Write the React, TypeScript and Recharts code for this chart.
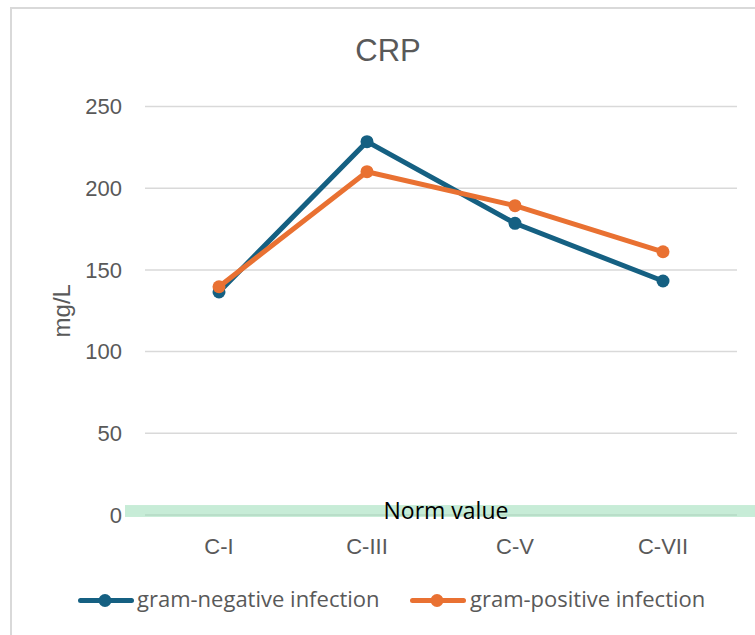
import React from 'react';
import { LineChart, Line, XAxis, YAxis, CartesianGrid, Legend, ReferenceArea } from 'recharts';

const categories = ['C-I', 'C-III', 'C-V', 'C-VII'];
const gramNegative = [136.5, 228.5, 178.5, 143.2];
const gramPositive = [139.7, 210.1, 189.3, 161.1];
const yTicks = [0, 50, 100, 150, 200, 250];
const normBand = [-1.2, 6.1];

const seriesNames = ['gram-negative infection', 'gram-positive infection'];
const seriesColors = ['#156082', '#E97132'];

const data = categories.map((c, i) => ({
  category: c,
  neg: gramNegative[i],
  pos: gramPositive[i],
}));

const TICK_FONT = '"Liberation Sans", Arial, sans-serif';
const TEXT_COLOR = '#595959';

const LegendContent = () => (
  <div style={{ display: 'flex', height: 28, fontFamily: '"Open Sans", sans-serif', fontSize: 22, color: TEXT_COLOR, lineHeight: '28px', whiteSpace: 'nowrap' }}>
    {seriesNames.map((name, i) => (
      <div key={name} style={{ display: 'flex', width: i === 0 ? 332 : 320, height: 28 }}>
        <svg width={56} height={28} style={{ display: 'block', flex: 'none' }}>
          <line x1={2.5} x2={53.5} y1={16.5} y2={16.5} stroke={seriesColors[i]} strokeWidth={5} strokeLinecap="round" />
          <circle cx={27} cy={16.5} r={6.5} fill={seriesColors[i]} />
        </svg>
        <span style={{ marginLeft: i === 0 ? 3 : 4 }}>{name}</span>
      </div>
    ))}
  </div>
);

// The band spans the first to last category; widen it past the plot like the original shape.
const BandShape = (props: any) => (
  <rect
    x={props.x - 94}
    y={props.y}
    width={props.width + 210}
    height={props.height}
    fill="#8fd9b0"
    fillOpacity={0.5}
  />
);

export default function App() {
  return (
    <div style={{ position: 'fixed', left: 0, top: 0, width: 755, height: 635, overflow: 'hidden', background: '#fff' }}>
      <div style={{ position: 'absolute', left: 10, top: 7, width: 780, height: 660, border: '2px solid #d9d9d9', boxSizing: 'border-box' }} />
      <div style={{ position: 'absolute', left: 288, top: 35, width: 200, textAlign: 'center', fontFamily: TICK_FONT, fontSize: 31, lineHeight: '31px', color: TEXT_COLOR }}>
        CRP
      </div>
      <div style={{ position: 'absolute', left: 0, top: 0 }}>
        <LineChart width={755} height={635} data={data} margin={{ top: 106.5, right: 18, bottom: 80, left: 85 }} style={{ overflow: 'visible' }}>
          <CartesianGrid vertical={false} stroke="#d9d9d9" strokeWidth={1.5} />
          <XAxis
            dataKey="category"
            axisLine={false}
            tickLine={false}
            height={40}
            padding={{ left: 74, right: 74 }}
            tickMargin={17}
            tick={{ fontSize: 22, fill: TEXT_COLOR, fontFamily: TICK_FONT }}
            interval={0}
          />
          <YAxis
            domain={[0, 250]}
            ticks={yTicks}
            axisLine={false}
            tickLine={false}
            width={60}
            tickMargin={17}
            tick={{ fontSize: 22, fill: TEXT_COLOR, fontFamily: TICK_FONT }}
            label={{ value: 'mg/L', angle: -90, position: 'center', dx: -54, fontSize: 24, fill: TEXT_COLOR, fontFamily: TICK_FONT }}
          />
          <ReferenceArea
            y1={normBand[0]}
            y2={normBand[1]}
            ifOverflow="visible"
            shape={BandShape}
            label={{ value: 'Norm value', position: 'center', dx: 5, fontSize: 23, fill: '#000', fontFamily: '"Open Sans", sans-serif' }}
          />
          <Line
            dataKey="neg"
            name={seriesNames[0]}
            stroke={seriesColors[0]}
            strokeWidth={5}
            dot={{ r: 6.5, fill: seriesColors[0], stroke: 'none' }}
            activeDot={false}
            isAnimationActive={false}
          />
          <Line
            dataKey="pos"
            name={seriesNames[1]}
            stroke={seriesColors[1]}
            strokeWidth={5}
            dot={{ r: 6.5, fill: seriesColors[1], stroke: 'none' }}
            activeDot={false}
            isAnimationActive={false}
          />
          <Legend
            layout="horizontal"
            verticalAlign="middle"
            align="center"
            content={LegendContent}
            wrapperStyle={{ left: 78, top: 583.5, width: 680, height: 28 }}
          />
        </LineChart>
      </div>
    </div>
  );
}
